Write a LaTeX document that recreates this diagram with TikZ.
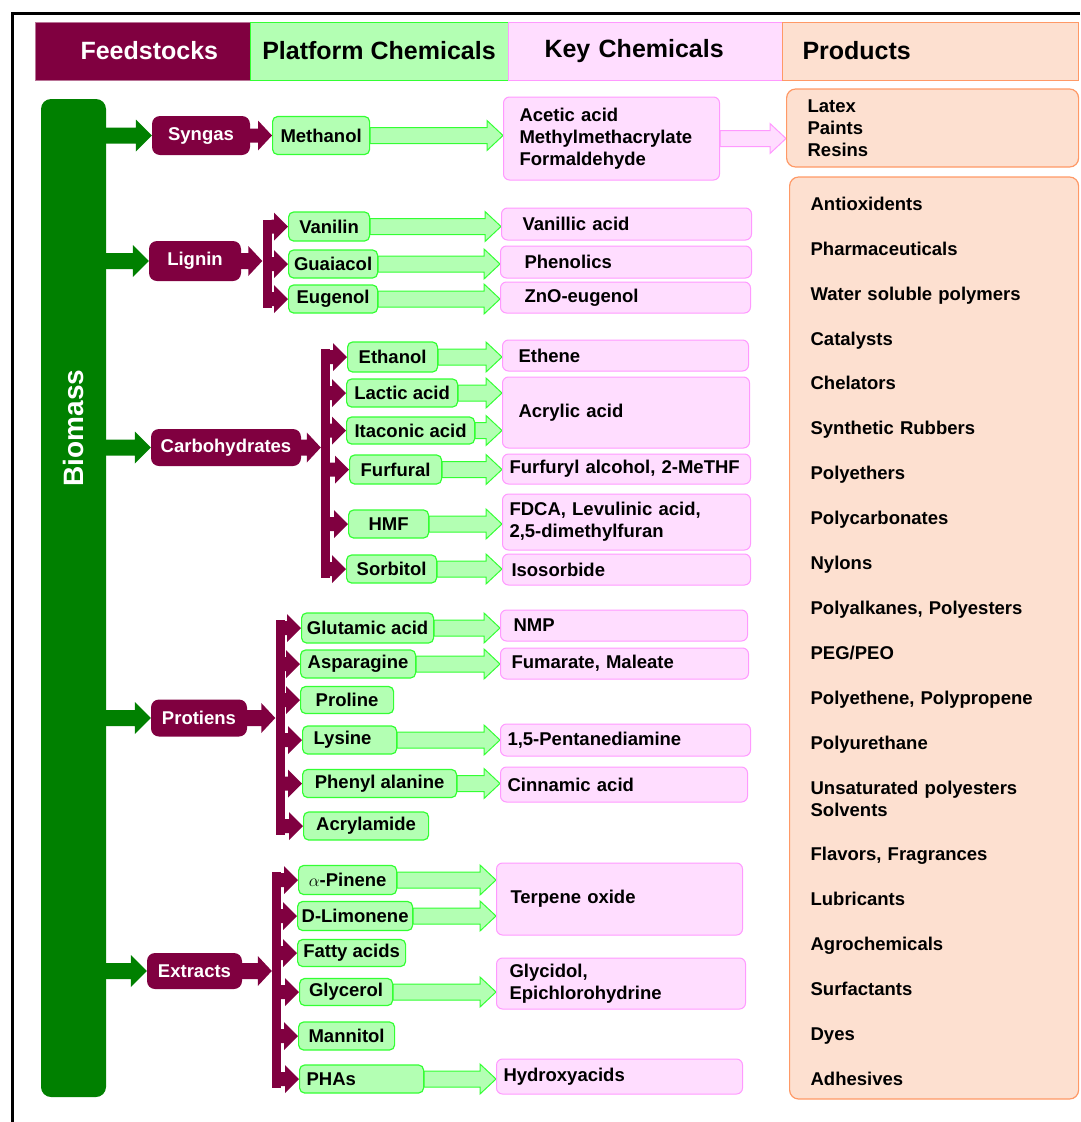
\documentclass[tikz,border=0pt]{standalone}
\usepackage{fontspec}
\setmainfont{Liberation Sans}
\usetikzlibrary{calc, backgrounds}
\definecolor{clrMaroon}{HTML}{800040}
\definecolor{clrBio}{HTML}{008000}
\definecolor{clrPlat}{HTML}{B3FFB3}
\definecolor{clrPlatLine}{HTML}{33FF33}
\definecolor{clrKey}{HTML}{FFDDFF}
\definecolor{clrKeyLine}{HTML}{FF99FF}
\definecolor{clrProd}{HTML}{FDE0D0}
\definecolor{clrProdLine}{HTML}{FF9966}
\newcommand{\bodyfont}{\fontsize{18.5}{22}\selectfont\bfseries}
\newcommand{\headfont}{\fontsize{25}{30}\selectfont\bfseries}
\newcommand{\bigfont}{\fontsize{28}{32}\selectfont\bfseries}
% block arrow: style, start, tip, shaft half, head half, head length
\newcommand{\blockarr}[6]{%
  \path[#1] let \p1=(#2), \p2=(#3) in
    (\x1,{\y2+#4}) -- ({\x2-#6},{\y2+#4}) -- ({\x2-#6},{\y2+#5}) -- (\p2)
    -- ({\x2-#6},{\y2-#5}) -- ({\x2-#6},{\y2-#4}) -- (\x1,{\y2-#4}) -- cycle;}
\tikzset{
  header/.style = {rectangle, minimum height=58pt, inner sep=0pt, font=\headfont, line width=1pt},
  feed/.style = {rectangle, rounded corners=8pt, fill=clrMaroon, text=white, font=\bodyfont, inner sep=2pt},
  plat/.style = {rectangle, rounded corners=5pt, fill=clrPlat, draw=clrPlatLine, line width=1.2pt,
                 font=\bodyfont, inner xsep=2pt, inner ysep=0pt, anchor=west},
  keyc/.style = {rectangle, rounded corners=6pt, fill=clrKey, draw=clrKeyLine, line width=1pt,
                 font=\bodyfont, align=left, inner ysep=0pt, anchor=west},
  prod/.style = {rectangle, rounded corners=9pt, fill=clrProd, draw=clrProdLine, line width=1.2pt,
                 font=\bodyfont, align=left, inner ysep=0pt, anchor=west},
  bar/.style = {rectangle, fill=clrMaroon, minimum width=9pt, inner sep=0pt},
  garrow/.style = {fill=clrBio},
  marrow/.style = {fill=clrMaroon},
  parrow/.style = {fill=clrPlat, draw=clrPlatLine, line width=1pt},
  karrow/.style = {fill=clrKey, draw=clrKeyLine, line width=1pt},
}
\begin{document}
\begin{tikzpicture}[x=1pt, y=-1pt]
  \useasboundingbox (0,0) rectangle (1080,1122);
  \def\prodgap{22.9pt}

  % frame
  \draw[line width=3pt] (1080,13) -- (12,13) -- (12,1122);

  % --- Column headers ---
  \node[header, fill=clrMaroon, draw=clrMaroon!55!white, text=white, anchor=west, align=left, text width=125pt, inner xsep=45pt] at (35,51) (H1) {Feedstocks};
  \node[header, fill=clrPlat, draw=clrPlatLine, minimum width=258pt] at (379,51) (H2) {Platform Chemicals};
  \node[header, fill=clrKey, draw=clrKeyLine, anchor=west, align=left, text width=202pt, inner xsep=36pt] at (508,51) (H3) {Key Chemicals};
  \node[header, fill=clrProd, draw=clrProdLine, anchor=west, align=left, text width=256pt, inner xsep=20pt] at (782,51) (H4) {Products};

  % --- Biomass ---
  \node[rectangle, rounded corners=10pt, fill=clrBio, minimum width=65pt, minimum height=998pt] at (73.5,598) (B) {};
  \node[font=\bigfont, text=white, rotate=90] at (73,428) (BT) {Biomass};

  % --- Feedstocks ---
  \node[feed, minimum width=98pt, minimum height=39pt]  at (201,135.5) (F1) {Syngas};
  \node[feed, minimum width=92pt, minimum height=40pt]  at (195,261)   (F2) {Lignin};
  \node[feed, minimum width=150pt, minimum height=37pt] at (226,447.5) (F3) {Carbohydrates};
  \node[feed, minimum width=96pt, minimum height=37pt]  at (199,718)   (F4) {Protiens};
  \node[feed, minimum width=95pt, minimum height=36pt]  at (194.5,971) (F5) {Extracts};

  % --- Branch bars ---
  \node[bar, minimum height=88.5pt] at (267,263.75) (B2) {};
  \node[bar, minimum height=229pt]  at (325.5,463.5) (B3) {};
  \node[bar, minimum height=215pt]  at (280,727.5)   (B4) {};
  \node[bar, minimum height=216pt]  at (276.5,980)   (B5) {};

  % --- Platform chemicals ---
  \node[plat, minimum width=97pt, minimum height=38pt] at (272,135.5) (P1a) {Methanol};
  % Lignin
  \node[plat, minimum width=81pt, minimum height=29pt] at (288,226.5) (P2a) {Vanilin};
  \node[plat, minimum width=89pt, minimum height=28pt] at (288,264)   (P2b) {Guaiacol};
  \node[plat, minimum width=89pt, minimum height=28pt] at (288,299)   (P2c) {Eugenol};
  % Carbohydrates
  \node[plat, minimum width=90pt, minimum height=30pt]  at (347,357)   (P3a) {Ethanol};
  \node[plat, minimum width=111pt, minimum height=28pt] at (346,393)   (P3b) {Lactic acid};
  \node[plat, minimum width=128pt, minimum height=27pt] at (346,430.5) (P3c) {Itaconic acid};
  \node[plat, minimum width=92pt, minimum height=29pt]  at (349,469.5) (P3d) {Furfural};
  \node[plat, minimum width=80pt, minimum height=28pt]  at (348,524)   (P3e) {HMF};
  \node[plat, minimum width=90pt, minimum height=28pt]  at (346,569)   (P3f) {Sorbitol};
  % Protiens
  \node[plat, minimum width=132pt, minimum height=30pt] at (301,628)   (P4a) {Glutamic acid};
  \node[plat, minimum width=115pt, minimum height=28pt] at (300,664)   (P4b) {Asparagine};
  \node[plat, minimum width=93pt, minimum height=27pt]  at (300,700)   (P4c) {Proline};
  \node[plat, minimum width=94pt, minimum height=28pt, align=left, text width=72pt, inner xsep=11pt] at (302,740) (P4d) {Lysine};
  \node[plat, minimum width=154pt, minimum height=28pt] at (302,783.5) (P4e) {Phenyl alanine};
  \node[plat, minimum width=125pt, minimum height=28pt] at (303,826)   (P4f) {Acrylamide};
  % Extracts
  \node[plat, minimum width=98pt, minimum height=29pt]  at (298,880)   (P5a) {$\alpha$-Pinene};
  \node[plat, minimum width=115pt, minimum height=29pt] at (297,916)   (P5b) {D-Limonene};
  \node[plat, minimum width=108pt, minimum height=27pt] at (297,953)   (P5c) {Fatty acids};
  \node[plat, minimum width=93pt, minimum height=27pt]  at (299,992)   (P5d) {Glycerol};
  \node[plat, minimum width=96pt, minimum height=28pt]  at (298,1036)  (P5e) {Mannitol};
  \node[plat, minimum width=124pt, minimum height=28pt, align=left, text width=110pt, inner xsep=7pt] at (299,1079) (P5f) {PHAs};

  % --- Key chemicals ---
  \node[keyc, text width=184pt, inner xsep=16pt, minimum height=83pt] at (503,138.5) (K1a) {Acetic acid\\Methylmethacrylate\\Formaldehyde};
  \node[keyc, text width=208pt, inner xsep=21pt, minimum height=32pt] at (501,224)    (K2a) {Vanillic acid};
  \node[keyc, text width=203pt, inner xsep=24pt, minimum height=32pt] at (500,262)    (K2b) {Phenolics};
  \node[keyc, text width=202pt, inner xsep=24pt, minimum height=31pt] at (500,297.5)  (K2c) {ZnO-eugenol};
  \node[keyc, text width=214pt, inner xsep=16pt, minimum height=31pt] at (502,355.5)  (K3a) {Ethene};
  \node[keyc, text width=215pt, inner xsep=16pt, minimum height=71pt] at (502,412.5)  (K3b) {Acrylic acid};
  \node[keyc, text width=234pt, inner xsep=7pt, minimum height=30pt]  at (502,469)    (K3c) {Furfuryl alcohol, 2-MeTHF};
  \node[keyc, text width=234pt, inner xsep=7pt, minimum height=56pt]  at (502,522)    (K3d) {FDCA, Levulinic acid,\\2,5-dimethylfuran};
  \node[keyc, text width=230pt, inner xsep=9pt, minimum height=31pt]  at (502,569.5)  (K3e) {Isosorbide};
  \node[keyc, text width=221pt, inner xsep=13pt, minimum height=31pt] at (500,625.5)  (K4a) {NMP};
  \node[keyc, text width=226pt, inner xsep=11pt, minimum height=31pt] at (500,663.5)  (K4b) {Fumarate, Maleate};
  \node[keyc, text width=236pt, inner xsep=7pt, minimum height=32pt]  at (500,740)    (K4c) {1,5-Pentanediamine};
  \node[keyc, text width=233pt, inner xsep=7pt, minimum height=35pt]  at (500,784.5)  (K4d) {Cinnamic acid};
  \node[keyc, text width=218pt, inner xsep=14pt, minimum height=72pt] at (496,899)    (K5a) {Terpene oxide};
  \node[keyc, text width=223pt, inner xsep=13pt, minimum height=51pt] at (496,983.5)  (K5b) {Glycidol,\\Epichlorohydrine};
  \node[keyc, text width=232pt, inner xsep=7pt, minimum height=35pt]  at (496,1076.5) (K5c) {Hydroxyacids};

  % --- Products ---
  \node[prod, text width=250pt, inner xsep=21pt, minimum height=78pt] at (786,128) (R1) {Latex\\Paints\\Resins};
  \node[prod, text width=247pt, inner xsep=21pt, minimum height=922pt] at (789,638) (R2)
    {\rule{0pt}{20pt}Antioxidents\\[\prodgap]Pharmaceuticals\\[\prodgap]Water soluble polymers\\[\prodgap]Catalysts\\[\prodgap]%
     Chelators\\[\prodgap]Synthetic Rubbers\\[\prodgap]Polyethers\\[\prodgap]Polycarbonates\\[\prodgap]%
     Nylons\\[\prodgap]Polyalkanes, Polyesters\\[\prodgap]PEG/PEO\\[\prodgap]Polyethene, Polypropene\\[\prodgap]%
     Polyurethane\\[\prodgap]Unsaturated polyesters\\Solvents\\[\prodgap]Flavors, Fragrances\\[\prodgap]%
     Lubricants\\[\prodgap]Agrochemicals\\[\prodgap]Surfactants\\[\prodgap]Dyes\\[\prodgap]Adhesives};

  % --- Block arrows, behind the boxes ---
  \begin{scope}[on background layer]
    % biomass to feedstocks
    \foreach \fd in {F1,F2,F3,F4,F5} {\blockarr{garrow}{B.east}{\fd.west}{8pt}{16pt}{16pt}}
    % feedstocks to bars
    \blockarr{marrow}{F1.east}{P1a.west}{7pt}{15pt}{14pt}
    \blockarr{marrow}{F2.east}{F2.east -| B2.west}{8pt}{15pt}{14pt}
    \blockarr{marrow}{F3.east}{F3.east -| B3.west}{8pt}{15pt}{14pt}
    \blockarr{marrow}{F4.east}{F4.east -| B4.west}{8pt}{15pt}{14pt}
    \blockarr{marrow}{F5.east}{F5.east -| B5.west}{8pt}{15pt}{14pt}
    % bars to platform chemicals
    \foreach \pc in {P2a,P2b,P2c} {\blockarr{marrow}{B2.east}{\pc.west}{7pt}{14pt}{14pt}}
    \foreach \pc in {P3a,P3b,P3c,P3d,P3e,P3f} {\blockarr{marrow}{B3.east}{\pc.west}{7pt}{14pt}{14pt}}
    \foreach \pc in {P4a,P4b,P4c,P4d,P4e,P4f} {\blockarr{marrow}{B4.east}{\pc.west}{7pt}{14pt}{14pt}}
    \foreach \pc in {P5a,P5b,P5c,P5d,P5e,P5f} {\blockarr{marrow}{B5.east}{\pc.west}{7pt}{14pt}{14pt}}
    % platform to key chemicals
    \foreach \src/\dst in {P1a/K1a, P2a/K2a, P2b/K2b, P2c/K2c, P3a/K3a, P3b/K3b, P3c/K3b,
                           P3d/K3c, P3e/K3d, P3f/K3e, P4a/K4a, P4b/K4b, P4d/K4c, P4e/K4d,
                           P5a/K5a, P5b/K5a, P5d/K5b, P5f/K5c}
      {\blockarr{parrow}{\src.east}{\src.east -| \dst.west}{8pt}{15pt}{16pt}}
    % key chemicals to products
    \blockarr{karrow}{K1a.east}{K1a.east -| R1.west}{8pt}{15pt}{16pt}
  \end{scope}
\end{tikzpicture}
\end{document}
